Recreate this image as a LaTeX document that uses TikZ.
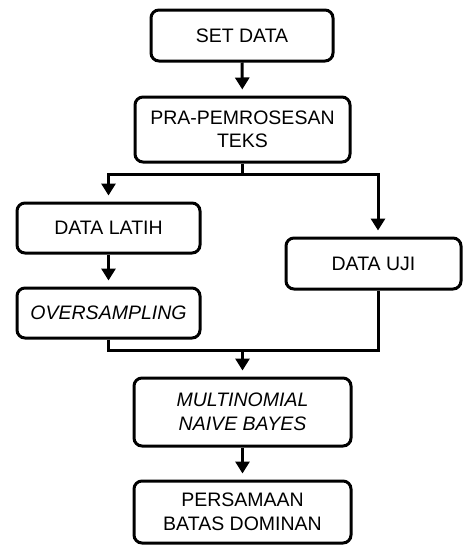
\documentclass[tikz,border=0pt]{standalone}
\usepackage{fontspec}
\setmainfont{Liberation Sans}
\usetikzlibrary{arrows.meta,positioning}

\begin{document}
\begin{tikzpicture}[x=1pt,y=-1pt,
        box/.style={draw,line width=3pt,rounded corners=8pt,align=center,
            font=\fontsize{19.5}{23.5}\selectfont,inner sep=0pt},
        flow/.style={line width=3pt,-{Triangle[width=14pt,length=12pt]},shorten >=6pt}
    ]
        \useasboundingbox (0,0) rectangle (463,546);
        \node[box,minimum width=182pt,minimum height=51pt] (setdata) at (242,35.5) {SET DATA};
        \node[box,minimum width=215pt,minimum height=65pt] (prep) at (242.5,129.5) {PRA-PEMROSESAN\\TEKS};
        \node[box,minimum width=183pt,minimum height=50pt] (latih) at (108.5,228) {DATA LATIH};
        \node[box,minimum width=183pt,minimum height=50pt] (over) at (108.5,313) {\itshape OVERSAMPLING};
        \node[box,minimum width=175pt,minimum height=51pt] (uji) at (373.5,263.5) {DATA UJI};
        \node[box,minimum width=217pt,minimum height=68pt] (mnb) at (242.5,412) {\itshape MULTINOMIAL\\\itshape NAIVE BAYES};
        \node[box,minimum width=217pt,minimum height=62pt] (pbd) at (242.5,512) {PERSAMAAN\\BATAS DOMINAN};

        \coordinate (split) at (242.5,174);
        \coordinate (join) at (242.5,350);

        \draw[flow] (setdata) -- (prep);
        \draw[line width=3pt] (prep.south) -- (split);
        \draw[flow] (split) -| (latih.north);
        \draw[flow] (split) -| ([xshift=4.5pt]uji.north);
        \draw[flow] (latih) -- (over);
        \draw[line width=3pt] (over.south) |- (join) -| ([xshift=4.5pt]uji.south);
        \draw[flow] (join) -- (mnb);
        \draw[flow] (mnb) -- (pbd);
    \end{tikzpicture}
\end{document}
